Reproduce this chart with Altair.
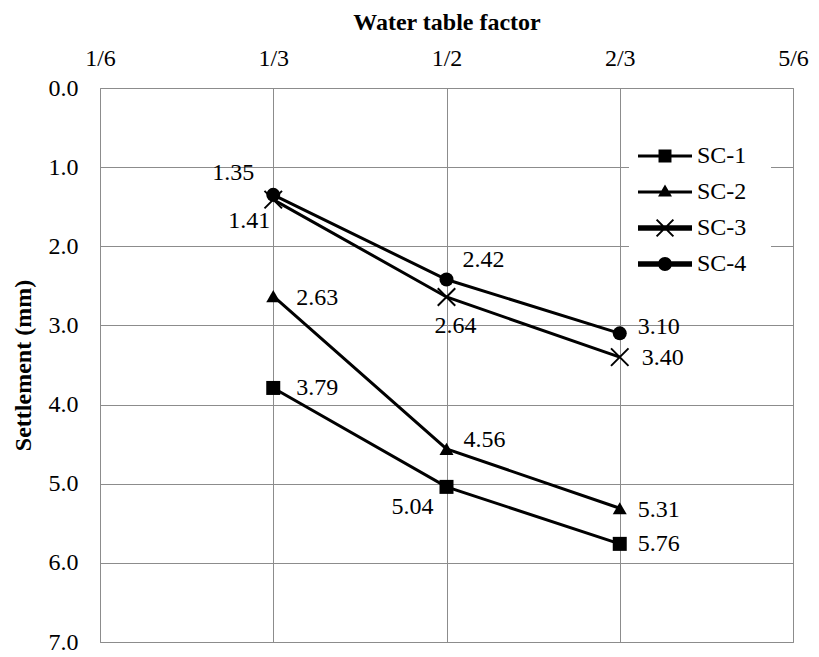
import altair as alt
import pandas as pd

# ---------------- data ----------------
SERIES = ["SC-1", "SC-2", "SC-3", "SC-4"]
X_VALUES = [1 / 3, 1 / 2, 2 / 3]
SC1 = [3.79, 5.04, 5.76]
SC2 = [2.63, 4.56, 5.31]
SC3 = [1.41, 2.64, 3.40]
SC4 = [1.35, 2.42, 3.10]
X_TICKS = [1 / 6, 1 / 3, 1 / 2, 2 / 3, 5 / 6]
X_TICK_LABELS = ["1/6", "1/3", "1/2", "2/3", "5/6"]
Y_TICKS = [0, 1, 2, 3, 4, 5, 6, 7]

# ---------------- style: data-label placement (pixel offsets) ----------------
LABEL_DX = {"SC-1": [23, -55, 18], "SC-2": [23, 17, 18], "SC-3": [-45, -12, 22], "SC-4": [-61, 16, 18]}
LABEL_DY = {"SC-1": [0, 20, 0], "SC-2": [2, -9, 2], "SC-3": [21, 29, 1], "SC-4": [-22, -20, -6]}

rows = []
for name, vals in zip(SERIES, [SC1, SC2, SC3, SC4]):
    for i, (xv, v) in enumerate(zip(X_VALUES, vals)):
        rows.append({"series": name, "idx": i, "x": xv, "value": v, "label": f"{v:.2f}"})
df = pd.DataFrame(rows)

FONT = "Liberation Serif"
FS = 24
GRID = "#8c8c8c"


def fmt(v):
    return f"{v:.3f}".rstrip("0").rstrip(".")


def rect(x0, y0, x1, y1):
    return f"M{fmt(x0)},{fmt(y0)}H{fmt(x1)}V{fmt(y1)}H{fmt(x0)}Z"


def xshape(a, h):
    p1 = f"M{fmt(-a + h)},{fmt(-a - h)}L{fmt(a + h)},{fmt(a - h)}L{fmt(a - h)},{fmt(a + h)}L{fmt(-a - h)},{fmt(-a + h)}Z"
    p2 = f"M{fmt(-a - h)},{fmt(a - h)}L{fmt(a - h)},{fmt(-a - h)}L{fmt(a + h)},{fmt(-a + h)}L{fmt(-a + h)},{fmt(a + h)}Z"
    return p1 + p2


def circle(r):
    return f"M{fmt(-r)},0A{fmt(r)},{fmt(r)} 0 1,1 {fmt(r)},0A{fmt(r)},{fmt(r)} 0 1,1 {fmt(-r)},0Z"


POINT_SHAPES = ["square", "triangle-up", xshape(1.25, 0.1), "circle"]

L = 2.25
thin, thick = 0.13, 0.22
LEG_SHAPES = [
    rect(-L, -thin, L, thin) + rect(-0.54, -0.54, 0.54, 0.54),
    rect(-L, -thin, L, thin) + "M0,-0.62L0.58,0.38L-0.58,0.38Z",
    rect(-L, -thick, L, thick) + xshape(0.7, 0.06),
    rect(-L, -thick, L, thick) + circle(0.58),
]

AXIS_STYLE = dict(
    ticks=False, domain=False, grid=True, gridColor=GRID, gridWidth=1, gridOpacity=1,
    labelFont=FONT, labelFontSize=FS, labelColor="black",
    titleFont=FONT, titleFontSize=FS, titleFontWeight="bold", titleColor="black",
)

x_enc = alt.X(
    "x:Q",
    scale=alt.Scale(domain=[1 / 6, 5 / 6], nice=False, zero=False),
    axis=alt.Axis(
        orient="top", values=X_TICKS,
        labelExpr="[" + ",".join(f"'{t}'" for t in X_TICK_LABELS) + "][round(datum.value*6)-1]",
        title="Water table factor", labelFlush=False, labelOverlap=False,
        labelPadding=18, titlePadding=12, **AXIS_STYLE,
    ),
)
y_enc = alt.Y(
    "value:Q",
    scale=alt.Scale(domain=[0, 7], reverse=True, nice=False, zero=False),
    axis=alt.Axis(values=Y_TICKS, format=".1f", title="Settlement (mm)",
                  labelPadding=22, titlePadding=13, **AXIS_STYLE),
)

lines = alt.Chart(df).mark_line(color="black").encode(
    x=x_enc, y=y_enc,
    strokeWidth=alt.StrokeWidth("series:N", scale=alt.Scale(domain=SERIES, range=[3, 3, 5, 5]), legend=None),
)

points = alt.Chart(df).mark_point(filled=True, color="black", size=196, opacity=1).encode(
    x=x_enc, y=y_enc,
    shape=alt.Shape("series:N", scale=alt.Scale(domain=SERIES, range=POINT_SHAPES), legend=None),
)

label_layers = []
for name in SERIES:
    for i in range(len(X_VALUES)):
        label_layers.append(
            alt.Chart(df).transform_filter(
                f"datum.series == '{name}' && datum.idx == {i}"
            ).mark_text(
                align="left", baseline="middle", font=FONT, fontSize=FS, color="black",
                dx=LABEL_DX[name][i], dy=LABEL_DY[name][i],
            ).encode(x=x_enc, y=y_enc, text="label:N")
        )

legend_layer = alt.Chart(df).transform_filter("datum.value < 0").mark_point(
    filled=True, color="black", size=576, opacity=1
).encode(
    x=x_enc, y=y_enc,
    shape=alt.Shape(
        "series:N",
        scale=alt.Scale(domain=SERIES, range=LEG_SHAPES),
        legend=alt.Legend(
            title=None, orient="none", legendX=529, legendY=32, fillColor="white",
            padding=24, labelFont=FONT, labelFontSize=FS, labelColor="black",
            labelOffset=20, symbolSize=576, symbolStrokeWidth=0, symbolFillColor="black",
            rowPadding=12, labelLimit=0,
        ),
    ),
)

chart = alt.layer(lines, points, *label_layers, legend_layer).resolve_scale(
    shape="independent", strokeWidth="independent"
).properties(
    width=693, height=554,
    autosize=alt.AutoSizeParams(type="none"),
    padding={"left": 92, "top": 80, "right": 18, "bottom": 14},
    view=alt.ViewBackground(stroke=GRID, strokeWidth=1),
)

chart.save("out.html", embed_options={"renderer": "svg", "actions": False})
